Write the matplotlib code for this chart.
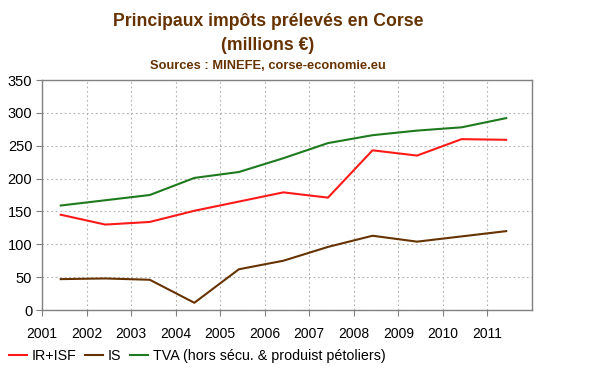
import matplotlib as mpl
import matplotlib.pyplot as plt
import numpy as np

mpl.rcParams.update({
    "font.family": ["Liberation Sans", "DejaVu Sans"],
    "font.size": 9,
})

# ── data (millions €) ────────────────────────────────────────────
years = [2001, 2002, 2003, 2004, 2005, 2006, 2007, 2008, 2009, 2010, 2011]
ir_isf = [145, 130, 134, 151, 165, 179, 171, 243, 235, 260, 259]
i_s = [47, 48, 46, 11, 62, 75, 96, 113, 104, 112, 120]
tva = [159, 167, 175, 201, 210, 231, 254, 266, 273, 278, 292]

BROWN = "#663300"
RED = "#FF1A1A"
GREEN = "#1E7A1E"

x = np.asarray(years) + 0.42

fig = plt.figure(figsize=(5.98, 3.72), dpi=100)
ax = fig.add_axes([42 / 598, 1 - 310 / 372, 490 / 598, 230 / 372])

ax.plot(x, ir_isf, color=RED, linewidth=1.5, label="IR+ISF")
ax.plot(x, i_s, color=BROWN, linewidth=1.5, label="IS")
ax.plot(x, tva, color=GREEN, linewidth=1.5, label="TVA (hors sécu. & produist pétoliers)")

ax.set_xlim(2001, 2012)
ax.set_ylim(0, 350)
ax.set_xticks(years)
ax.set_xticklabels([str(y) for y in years])
ax.set_yticks(range(0, 351, 50))
ax.tick_params(labelsize=10.5, length=4, color="#808080", pad=3)
ax.tick_params(axis="x", labelsize=10, pad=8)
ax.grid(True, color="#B0B0B0", linestyle=(0, (1.5, 2.5)), linewidth=0.8)
for s in ax.spines.values():
    s.set_color("#808080")
    s.set_linewidth(1.0)

fig.text(268 / 598, 1 - 22 / 372, "Principaux impôts prélevés en Corse",
         ha="center", va="center", fontsize=12.7, fontweight="bold", color=BROWN)
fig.text(268 / 598, 1 - 45 / 372, "(millions €)",
         ha="center", va="center", fontsize=12.7, fontweight="bold", color=BROWN)
fig.text(268 / 598, 1 - 66 / 372, "Sources : MINEFE, corse-economie.eu",
         ha="center", va="center", fontsize=9.3, fontweight="bold", color=BROWN)

fig.legend(loc="center left", bbox_to_anchor=(0.0, 1 - 356 / 372), ncol=3,
           frameon=False, fontsize=10.3, handlelength=1.3, handletextpad=0.3,
           columnspacing=0.6, borderaxespad=0.2)

fig.savefig("out.png", dpi=100)
